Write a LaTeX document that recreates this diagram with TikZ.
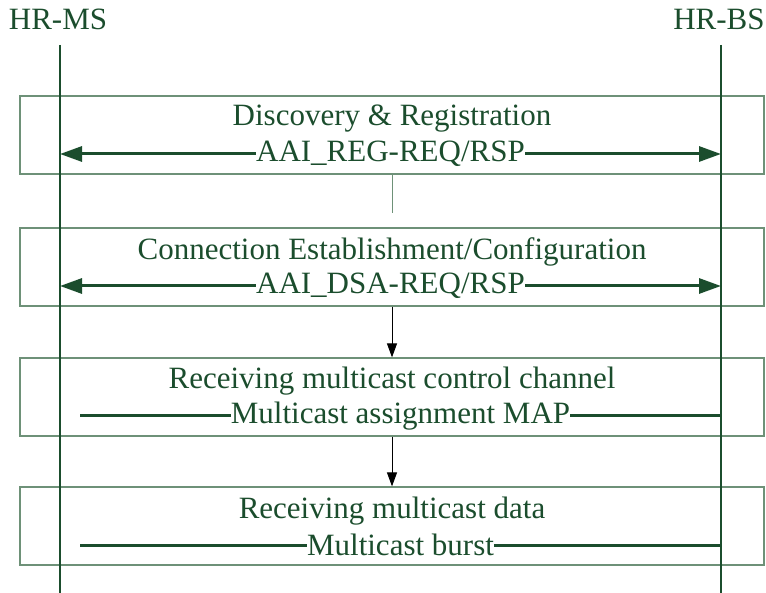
\documentclass[tikz,border=0pt]{standalone}
\usepackage{fontspec}
\setmainfont{Liberation Serif}
\usetikzlibrary{arrows.meta}
\definecolor{hrgreen}{RGB}{27,77,45}
\definecolor{hrframe}{RGB}{110,145,120}

\begin{document}
\begin{tikzpicture}[x=1pt,y=-1pt,
 every node/.style={font=\fontsize{31}{37}\selectfont,text=hrgreen},
 stagebox/.style={draw=hrframe,line width=1.2pt,minimum width=744pt,minimum height=78pt,inner sep=0pt},
 lifeline/.style={hrgreen,line width=2.8pt},
 msg/.style={hrgreen,line width=3pt},
 bothtips/.style={{Triangle[length=22pt,width=15pt]}-{Triangle[length=22pt,width=15pt]}},
 msglabel/.style={fill=white,inner xsep=0.3pt,inner ysep=0pt},
 flow/.style={black,line width=1pt,-{Triangle[length=14pt,width=10pt]}}]
 \useasboundingbox (0,0) rectangle (766,593);

 \node (boxreg) [stagebox] at (392,135) {};
 \node (boxdsa) [stagebox] at (392,267) {};
 \node (boxmap) [stagebox] at (392,397) {};
 \node (boxdata) [stagebox] at (392,526) {};

 \node (ms) [anchor=base] at (58,30) {HR-MS};
 \node (bs) [anchor=base] at (719,30) {HR-BS};
 \coordinate (mstop) at (60,45);
 \coordinate (msbot) at (60,593);
 \coordinate (bstop) at (721,45);
 \coordinate (bsbot) at (721,593);
 \draw[lifeline] (mstop) -- (msbot);
 \draw[lifeline] (bstop) -- (bsbot);

 \node (regtitle) [anchor=base] at (392,126) {Discovery \& Registration};
 \node (dsatitle) [anchor=base] at (392,260) {Connection Establishment/Configuration};
 \node (maptitle) [anchor=base] at (392,389) {Receiving multicast control channel};
 \node (datatitle) [anchor=base] at (392,518) {Receiving multicast data};

 \coordinate (msreg) at (60,154);
 \coordinate (bsreg) at (721,154);
 \coordinate (msdsa) at (60,286);
 \coordinate (bsdsa) at (721,286);
 \coordinate (msmap) at (80,416);
 \coordinate (bsmap) at (721,416);
 \coordinate (msdata) at (80,545);
 \coordinate (bsdata) at (721,545);

 \draw[msg,bothtips] (msreg) -- (bsreg) node (reg) [midway,msglabel] {AAI\_REG-REQ/RSP};
 \draw[msg,bothtips] (msdsa) -- (bsdsa) node (dsa) [midway,msglabel] {AAI\_DSA-REQ/RSP};
 \draw[msg] (msmap) -- (bsmap) node (map) [midway,msglabel] {Multicast assignment MAP};
 \draw[msg] (msdata) -- (bsdata) node (burst) [midway,msglabel] {Multicast burst};

 \coordinate (linkend) at (392,213);
 \draw[hrframe,line width=1pt] (boxreg.south) -- (linkend);
 \draw[flow] (boxdsa.south) -- (boxmap.north);
 \draw[flow] (boxmap.south) -- (boxdata.north);

\end{tikzpicture}
\end{document}
